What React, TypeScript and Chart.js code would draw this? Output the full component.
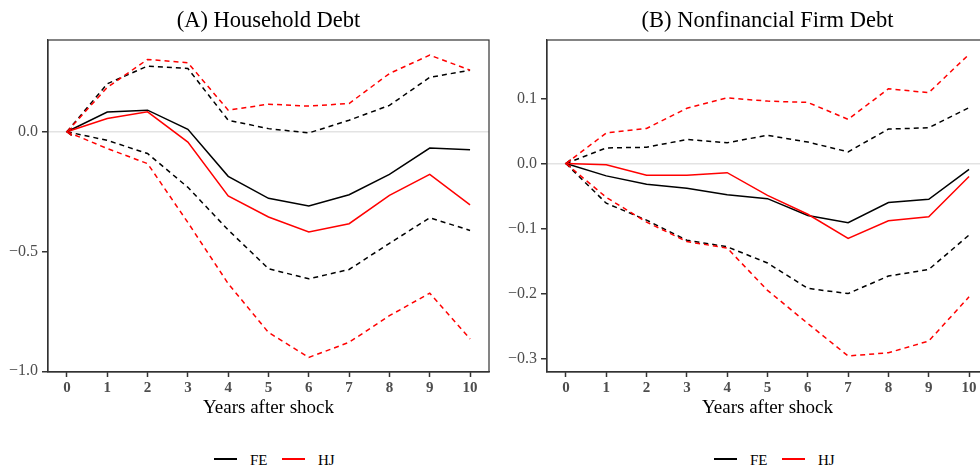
import React, { useEffect, useRef } from "react";
import { Chart, registerables } from "chart.js";

Chart.register(...registerables);

// ---------- data ----------
const years = [0, 1, 2, 3, 4, 5, 6, 7, 8, 9, 10];
const xTicks = [0, 1, 2, 3, 4, 5, 6, 7, 8, 9, 10];

// (A) Household Debt
const hhFE = [0, 0.082, 0.09, 0.01, -0.186, -0.278, -0.31, -0.263, -0.178, -0.068, -0.075];
const hhFEUpper = [0, 0.2, 0.274, 0.264, 0.048, 0.013, -0.005, 0.048, 0.11, 0.227, 0.257];
const hhFELower = [0, -0.036, -0.091, -0.232, -0.41, -0.572, -0.614, -0.575, -0.466, -0.359, -0.412];
const hhHJ = [0, 0.055, 0.083, -0.043, -0.268, -0.356, -0.418, -0.384, -0.266, -0.178, -0.305];
const hhHJUpper = [0, 0.185, 0.302, 0.288, 0.09, 0.115, 0.107, 0.118, 0.243, 0.32, 0.257];
const hhHJLower = [0, -0.07, -0.133, -0.379, -0.634, -0.838, -0.942, -0.879, -0.768, -0.674, -0.865];
const yTicksA = [-1.0, -0.5, 0.0];

// (B) Nonfinancial Firm Debt
const nfFE = [0, -0.019, -0.032, -0.038, -0.048, -0.054, -0.08, -0.091, -0.06, -0.055, -0.009];
const nfFEUpper = [0, 0.024, 0.025, 0.037, 0.032, 0.0435, 0.033, 0.018, 0.053, 0.055, 0.086];
const nfFELower = [0, -0.061, -0.087, -0.118, -0.128, -0.153, -0.192, -0.2, -0.173, -0.163, -0.11];
const nfHJ = [0, -0.002, -0.018, -0.018, -0.014, -0.049, -0.078, -0.115, -0.088, -0.082, -0.02];
const nfHJUpper = [0, 0.047, 0.054, 0.085, 0.101, 0.096, 0.094, 0.068, 0.115, 0.109, 0.168];
const nfHJLower = [0, -0.052, -0.09, -0.12, -0.13, -0.195, -0.246, -0.296, -0.291, -0.273, -0.205];
const yTicksB = [-0.3, -0.2, -0.1, 0.0, 0.1];

const FONT = "'Liberation Serif', 'Times New Roman', serif";
const RED = "#ff0000";
const BLACK = "#000000";

const toPts = (vals: number[]) => years.map((x, i) => ({ x, y: vals[i] }));

const frameAndArrows = {
  id: "frameAndArrows",
  afterDatasetsDraw(chart: any) {
    const { ctx, chartArea } = chart;
    ctx.save();
    // left-pointing arrow heads at the origin, one per colour (red on top)
    const dsList = chart.data.datasets;
    const seen: string[] = [];
    for (let i = dsList.length - 1; i >= 0; i--) {
      const ds = dsList[i];
      if (seen.includes(ds.borderColor)) continue;
      seen.push(ds.borderColor);
      const p0 = chart.getDatasetMeta(i).data[0];
      if (!p0) continue;
      const len = 6;
      const a = 0.65;
      ctx.strokeStyle = ds.borderColor;
      ctx.lineWidth = 1.5;
      ctx.setLineDash([]);
      ctx.beginPath();
      ctx.moveTo(p0.x + len * Math.cos(a), p0.y - len * Math.sin(a));
      ctx.lineTo(p0.x, p0.y);
      ctx.lineTo(p0.x + len * Math.cos(a), p0.y + len * Math.sin(a));
      ctx.stroke();
    }
    // panel border
    ctx.strokeStyle = "#333333";
    ctx.lineWidth = 1.2;
    ctx.strokeRect(chartArea.left, chartArea.top, chartArea.right - chartArea.left, chartArea.bottom - chartArea.top);
    ctx.restore();
  },
};

type PanelProps = {
  title: string;
  fe: number[];
  feUp: number[];
  feLo: number[];
  hj: number[];
  hjUp: number[];
  hjLo: number[];
  yMin: number;
  yMax: number;
  yTicks: number[];
  axisWidth: number;
  left: number;
  width: number;
  padRight: number;
};

function Panel(p: PanelProps) {
  const ref = useRef<HTMLCanvasElement | null>(null);
  useEffect(() => {
    if (!ref.current) return;
    const line = (label: string, vals: number[], color: string, dashed: boolean) => ({
      label,
      data: toPts(vals),
      borderColor: color,
      backgroundColor: color,
      borderWidth: 1.5,
      borderDash: dashed ? [5, 4] : [],
      pointRadius: 0,
      tension: 0,
      fill: false,
    });
    const chart = new Chart(ref.current, {
      type: "line",
      data: {
        datasets: [
          line("HJ", p.hj, RED, false),
          line("HJ upper", p.hjUp, RED, true),
          line("HJ lower", p.hjLo, RED, true),
          line("FE", p.fe, BLACK, false),
          line("FE upper", p.feUp, BLACK, true),
          line("FE lower", p.feLo, BLACK, true),
        ],
      },
      options: {
        animation: false,
        responsive: false,
        devicePixelRatio: 1,
        layout: { padding: { left: 0, right: p.padRight, top: 0, bottom: 0 } },
        plugins: {
          legend: { display: false },
          tooltip: { enabled: false },
          title: {
            display: true,
            text: p.title,
            fullSize: false,
            color: "#000",
            font: { family: FONT, size: 22.5, weight: "normal" as any, lineHeight: 1.2 },
            padding: { top: 8, bottom: 5 },
          },
        },
        scales: {
          x: {
            type: "linear",
            min: -0.47,
            max: 10.47,
            afterBuildTicks: (s: any) => {
              s.ticks = xTicks.map((v) => ({ value: v }));
            },
            afterFit: (s: any) => {
              s.height = 58;
            },
            ticks: {
              color: "#4d4d4d",
              font: { family: FONT, size: 15, weight: "bold" as any },
              padding: 2,
              maxRotation: 0,
              autoSkip: false,
              callback: (v: any) => String(v),
            },
            grid: { drawOnChartArea: false, tickColor: "#333", tickLength: 5, tickWidth: 1.5 },
            border: { display: true, color: "#333", width: 1.2 },
            title: {
              display: true,
              text: "Years after shock",
              color: "#000",
              font: { family: FONT, size: 19, lineHeight: 1.2 },
              padding: { top: 0, bottom: 11 },
            },
          },
          y: {
            type: "linear",
            min: p.yMin,
            max: p.yMax,
            afterBuildTicks: (s: any) => {
              s.ticks = p.yTicks.map((v) => ({ value: v }));
            },
            afterFit: (s: any) => {
              s.width = p.axisWidth;
            },
            ticks: {
              color: "#4d4d4d",
              font: { family: FONT, size: 16 },
              padding: 4,
              callback: (v: any) => {
                const n = Number(v);
                const s = Math.abs(n).toFixed(1);
                return n < -1e-9 ? "\u2212" + s : s;
              },
            },
            grid: {
              color: (c: any) => (c.tick && Math.abs(c.tick.value) < 1e-9 ? "#e3e3e3" : "rgba(0,0,0,0)"),
              lineWidth: 1.5,
              tickColor: "#333",
              tickLength: 6,
              tickWidth: 1.5,
            },
            border: { display: true, color: "#333", width: 1.2 },
          },
        },
      },
      plugins: [frameAndArrows],
    } as any);
    return () => chart.destroy();
  }, []);
  return (
    <canvas
      ref={ref}
      width={p.width}
      height={430}
      style={{ position: "absolute", left: p.left, top: 0, width: p.width, height: 430 }}
    />
  );
}

function Legend({ left }: { left: number }) {
  const txt: React.CSSProperties = {
    position: "absolute",
    top: 450,
    fontFamily: FONT,
    fontSize: 15,
    lineHeight: "20px",
    color: "#000",
  };
  const ln = (x: number, color: string): React.CSSProperties => ({
    position: "absolute",
    left: x,
    top: 458,
    width: 23,
    height: 2,
    background: color,
  });
  return (
    <>
      <div style={ln(left, BLACK)} />
      <div style={{ ...txt, left: left + 36 }}>FE</div>
      <div style={ln(left + 68, RED)} />
      <div style={{ ...txt, left: left + 104 }}>HJ</div>
    </>
  );
}

export default function App() {
  useEffect(() => {
    document.body.style.margin = "0";
  }, []);
  return (
    <div
      style={{
        position: "fixed",
        left: 0,
        top: 0,
        width: 980,
        height: 468,
        overflow: "hidden",
        background: "#fff",
      }}
    >
      <Panel
        title="(A) Household Debt"
        fe={hhFE}
        feUp={hhFEUpper}
        feLo={hhFELower}
        hj={hhHJ}
        hjUp={hhHJUpper}
        hjLo={hhHJLower}
        yMin={-1.003}
        yMax={0.383}
        yTicks={yTicksA}
        axisWidth={48}
        left={0}
        width={490}
        padRight={1}
      />
      <Panel
        title="(B) Nonfinancial Firm Debt"
        fe={nfFE}
        feUp={nfFEUpper}
        feLo={nfFELower}
        hj={nfHJ}
        hjUp={nfHJUpper}
        hjLo={nfHJLower}
        yMin={-0.3206}
        yMax={0.19}
        yTicks={yTicksB}
        axisWidth={57}
        left={490}
        width={500}
        padRight={2}
      />
      <Legend left={214} />
      <Legend left={714} />
    </div>
  );
}
